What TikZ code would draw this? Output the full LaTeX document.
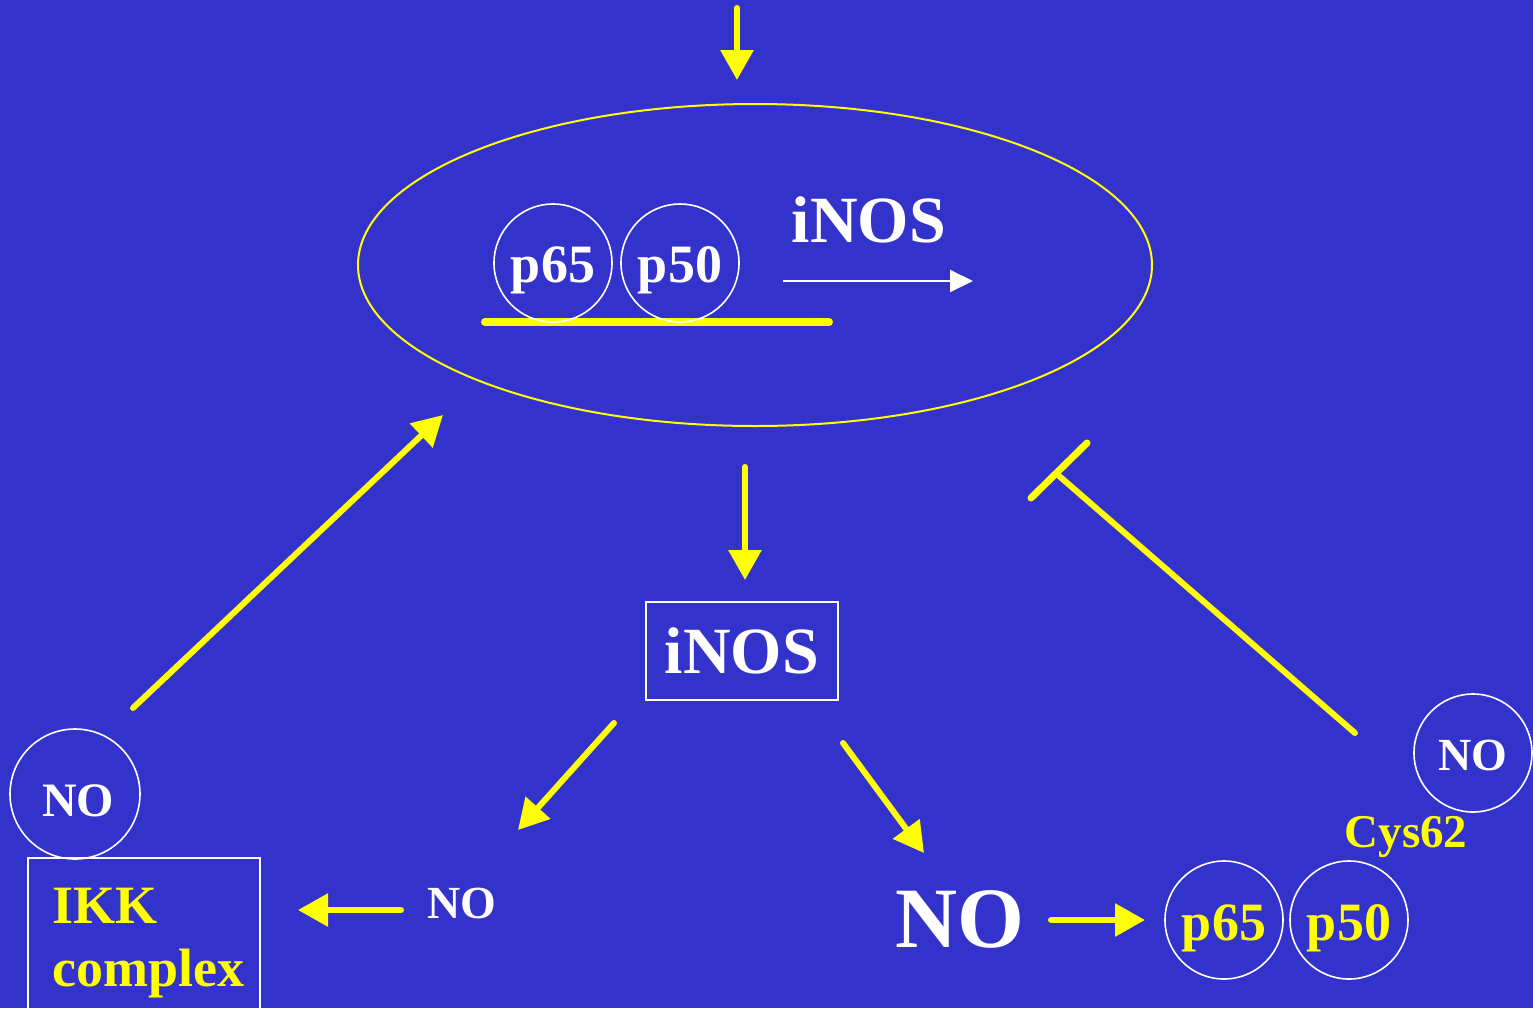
\documentclass[tikz,border=0pt]{standalone}
\usepackage{fontspec}
\setmainfont{Liberation Serif}
\usetikzlibrary{arrows.meta,shapes.geometric}
\definecolor{bg}{RGB}{51,51,204}
\definecolor{yel}{RGB}{255,255,0}
\begin{document}
\begin{tikzpicture}[x=0.5pt,y=-0.5pt,
  arr/.style={draw=yel, line width=3pt, line cap=round, -{Triangle[length=15pt,width=16pt]}},
  warr/.style={draw=white, line width=1pt, -{Triangle[length=11.5pt,width=11pt]}},
  txt/.style={inner sep=0pt, font=\bfseries\fontsize{#1}{#1}\selectfont},
  circ/.style={draw=white, line width=0.8pt, circle, inner sep=0pt, minimum size=#1},
  wbox/.style={draw=white, line width=1pt, rectangle, inner sep=0pt},
  inh/.style={draw=yel, line width=3pt, line cap=round}
]
\fill[bg] (0,0) rectangle (1533,1008);
\useasboundingbox (0,0) rectangle (1533,1008);

% nucleus
\node[draw=yel, line width=1pt, ellipse, minimum width=397pt, minimum height=161pt, inner sep=0pt] (ell) at (755,265) {};
\coordinate (ulA) at (485,322);
\coordinate (ulB) at (829,322);
\draw[yel, line width=4pt, line cap=round] (ulA) -- (ulB);
\node[circ=59pt, txt=27, text=white, text height=19pt, text depth=0pt] (p65t) at (553,263) {p65};
\node[circ=59pt, txt=27, text=white, text height=19pt, text depth=0pt] (p50t) at (680,263) {p50};
\node[txt=33, text=white, anchor=base] (inost) at (869,242) {iNOS};
\coordinate (waS) at (783,281);
\coordinate (waE) at (973,281);
\draw[warr] (waS) -- (waE);

% top arrow
\coordinate (topS) at (737,8);
\coordinate (topE) at (737,80);
\draw[arr] (topS) -- (topE);

% iNOS protein
\node[wbox, minimum width=96pt, minimum height=49pt, txt=33, text=white] (inosb) at (742,651) {iNOS};
\coordinate (a1S) at (745,467);
\coordinate (a1E) at (745,580);
\draw[arr] (a1S) -- (a1E);

% branches
\coordinate (a2S) at (614,723);
\coordinate (a2E) at (518,830);
\draw[arr] (a2S) -- (a2E);
\coordinate (a3S) at (843,743);
\coordinate (a3E) at (924,853);
\draw[arr] (a3S) -- (a3E);

% left branch
\node[txt=23, text=white, anchor=base] (nomid) at (462,918) {NO};
\node[wbox, minimum width=116pt, minimum height=76pt] (ikkbox) at (144,934) {};
\node[txt=27, text=yel, anchor=base west] (ikk1) at (52,923) {IKK};
\node[txt=27, text=yel, anchor=base west] (ikk2) at (52,986) {complex};
\coordinate (a4S) at (401,910);
\coordinate (a4E) at (298,910);
\draw[arr] (a4S) -- (a4E);
\node[circ=65pt, txt=24, text=white, text height=22pt, text depth=0pt] (noL) at (75,794) {\hspace*{3pt}NO};
\coordinate (a5S) at (133,708);
\coordinate (a5E) at (443,415);
\draw[arr] (a5S) -- (a5E);

% right branch
\node[txt=43, text=white, anchor=base] (nobig) at (960,947) {NO};
\coordinate (a6S) at (1051,920);
\coordinate (a6E) at (1145,920);
\draw[arr] (a6S) -- (a6E);
\node[circ=59pt, txt=27, text=yel, text height=20pt, text depth=0pt] (p65b) at (1224,920) {p65};
\node[circ=59pt, txt=27, text=yel, text height=20pt, text depth=0pt] (p50b) at (1349,920) {p50};
\node[txt=23.5, text=yel, anchor=base] (cys) at (1406,847) {Cys62};
\node[circ=59pt, txt=23, text=white, text height=17pt, text depth=0pt] (noR) at (1473,753) {NO};
\coordinate (inS) at (1355,733);
\coordinate (inE) at (1058,475);
\coordinate (barA) at (1031,498);
\coordinate (barB) at (1087,443);
\draw[inh] (inS) -- (inE);
\draw[inh, line width=3.5pt] (barA) -- (barB);
\end{tikzpicture}
\end{document}
